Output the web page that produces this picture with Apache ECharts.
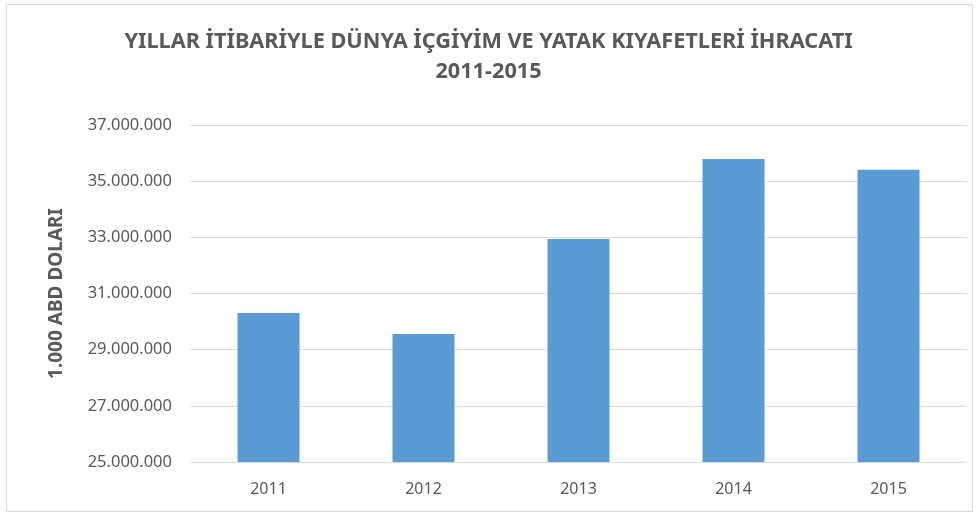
<!DOCTYPE html>
<html>
<head>
<meta charset="utf-8">
<script src="https://cdn.jsdelivr.net/npm/echarts@6/dist/echarts.min.js"></script>
<style>
html,body{margin:0;padding:0;background:#fff;}
#c{width:977px;height:513px;}
</style>
</head>
<body>
<div id="c"></div>
<script>
const titleLines = ['YILLAR İTİBARİYLE DÜNYA İÇGİYİM VE YATAK KIYAFETLERİ İHRACATI', '2011-2015'];
const yAxisName = '1.000 ABD DOLARI';
const categories = ['2011', '2012', '2013', '2014', '2015'];
const values = [30310000, 29560000, 32940000, 35790000, 35410000];
const yMin = 25000000, yMax = 37000000, yStep = 2000000;

const FONT = '"Noto Sans", sans-serif';
const chart = echarts.init(document.getElementById('c'));
function fmt(v){ return String(Math.round(v)).replace(/\B(?=(\d{3})+(?!\d))/g, '.'); }
chart.setOption({
  animation: false,
  backgroundColor: '#fff',
  graphic: [{
    type: 'rect', shape: {x: 6.5, y: 4.5, width: 966, height: 507},
    style: {fill: 'none', stroke: '#d9d9d9', lineWidth: 1}, silent: true, z: -1
  }],
  title: {
    text: titleLines.join('\n'),
    left: 'center', top: 22,
    textStyle: {fontFamily: FONT, fontSize: 21.7, fontWeight: 'bold', color: '#595959', lineHeight: 30}
  },
  grid: {left: 191, right: 11, top: 125, bottom: 51, containLabel: false},
  xAxis: {
    type: 'category', data: categories,
    axisLine: {lineStyle: {color: '#d9d9d9'}},
    axisTick: {show: false},
    axisLabel: {fontFamily: FONT, fontSize: 16, color: '#595959', margin: 19}
  },
  yAxis: {
    type: 'value', min: yMin, max: yMax, interval: yStep,
    name: yAxisName, nameLocation: 'middle', nameGap: 125, nameRotate: 90,
    nameTextStyle: {fontFamily: FONT, fontSize: 19, fontWeight: 'bold', color: '#595959'},
    axisLine: {show: false}, axisTick: {show: false},
    splitLine: {lineStyle: {color: '#d9d9d9'}},
    axisLabel: {fontFamily: FONT, fontSize: 16.5, color: '#595959', margin: 19, formatter: fmt}
  },
  series: [{
    type: 'bar', data: values, barWidth: '40%',
    itemStyle: {color: '#5b9bd5'}
  }]
});
</script>
</body>
</html>
